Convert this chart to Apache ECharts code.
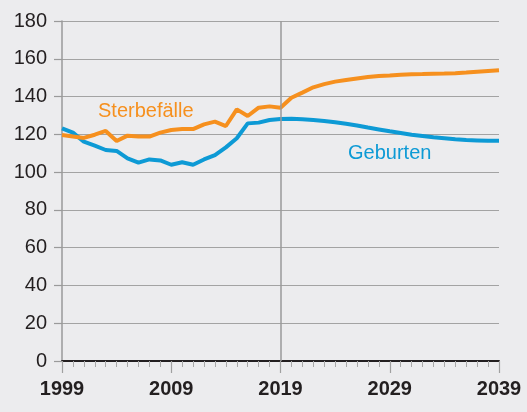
<!DOCTYPE html>
<html>
<head>
<meta charset="utf-8">
<script src="https://cdn.jsdelivr.net/npm/echarts@6/dist/echarts.min.js"></script>
<style>
  html, body { margin: 0; padding: 0; background: #ececee; }
  #chart { width: 527px; height: 412px; }
</style>
</head>
<body>
<div id="chart"></div>
<script>
// years 1999..2039
const startYear = 1999
const years = []
for (let y = 1999; y <= 2039; y++) years.push(y)

// Sterbefälle (orange)
const sterbefaelle = [
    119.6, 118.9, 118.1, 119.8, 121.8, 116.5, 119.3, 118.9, 118.8, 120.9,
    122.3, 122.8, 122.8, 125.3, 126.7, 124.4, 133.2, 129.7, 134.1, 134.8,
    134.1, 139.4, 142.1, 144.9, 146.6, 147.9, 148.8, 149.6, 150.3, 150.9,
    151.2, 151.6, 151.8, 151.9, 152.1, 152.2, 152.4, 152.7, 153.1, 153.5,
    153.9
]

// Geburten (blue)
const geburten = [
    123.2, 120.9, 116.1, 114.0, 111.7, 111.2, 107.3, 105.0, 106.7, 106.2,
    103.9, 105.2, 103.9, 106.7, 109.0, 113.1, 117.9, 125.8, 126.2, 127.6,
    128.1, 128.3, 128.0, 127.6, 127.1, 126.4, 125.6, 124.7, 123.6, 122.6,
    121.6, 120.7, 119.8, 119.1, 118.4, 117.9, 117.4, 117.0, 116.8, 116.6,
    116.6
]

const yTicks = [0, 20, 40, 60, 80, 100, 120, 140, 160, 180]
const markYear = 2019

const toPairs = arr => arr.map((v, i) => [years[i] - startYear, v])

var dom = document.getElementById('chart');
var chart = echarts.init(dom, null, { renderer: 'canvas' });

var option = {
    backgroundColor: '#ececee',
    animation: false,
    textStyle: { fontFamily: 'Liberation Sans' },
    grid: {
        left: 62,
        right: 28,
        top: 21,
        bottom: 51
    },
    xAxis: {
        type: 'value',
        min: 0,
        max: 40,
        interval: 10,
        axisLine: { show: true, onZero: false, lineStyle: { color: '#231f20', width: 2 } },
        axisTick: { show: true, length: 12, lineStyle: { color: '#a0a0a0', width: 1.2 } },
        minorTick: { show: true, splitNumber: 10, length: 6, lineStyle: { color: '#a8a8a8', width: 1 } },
        splitLine: { show: false },
        axisLabel: {
            margin: 18,
            color: '#231f20',
            fontSize: 20,
            fontWeight: 'bold',
            formatter: v => String(v + startYear)
        }
    },
    yAxis: {
        type: 'value',
        min: yTicks[0],
        max: yTicks[yTicks.length - 1],
        interval: 20,
        axisLine: { show: true, lineStyle: { color: '#9a9a9a', width: 1.5 } },
        axisTick: { show: true, length: 8, lineStyle: { color: '#9a9a9a', width: 1.2 } },
        splitLine: { show: true, lineStyle: { color: '#a3a3a3', width: 1.2 } },
        axisLabel: {
            margin: 15,
            color: '#231f20',
            fontSize: 20
        }
    },
    series: [
        {
            name: 'Geburten',
            type: 'line',
            data: toPairs(geburten),
            symbol: 'none',
            lineStyle: { color: '#0d9ad5', width: 4 },
            z: 3,
            markLine: {
                silent: true,
                symbol: 'none',
                label: { show: false },
                lineStyle: { color: '#9a9a9a', width: 1.5, type: 'solid' },
                data: [{ xAxis: markYear - startYear }]
            }
        },
        {
            name: 'Sterbefälle',
            type: 'line',
            data: toPairs(sterbefaelle),
            symbol: 'none',
            lineStyle: { color: '#f6901e', width: 4 },
            z: 4
        }
    ],
    graphic: [
        {
            type: 'text',
            left: 98,
            top: 101,
            style: { text: 'Sterbefälle', fill: '#f6901e', font: '20px "Liberation Sans"' }
        },
        {
            type: 'text',
            left: 348,
            top: 143,
            style: { text: 'Geburten', fill: '#0d9ad5', font: '20px "Liberation Sans"' }
        }
    ]
};

chart.setOption(option);
window.addEventListener('resize', chart.resize);
</script>
</body>
</html>
